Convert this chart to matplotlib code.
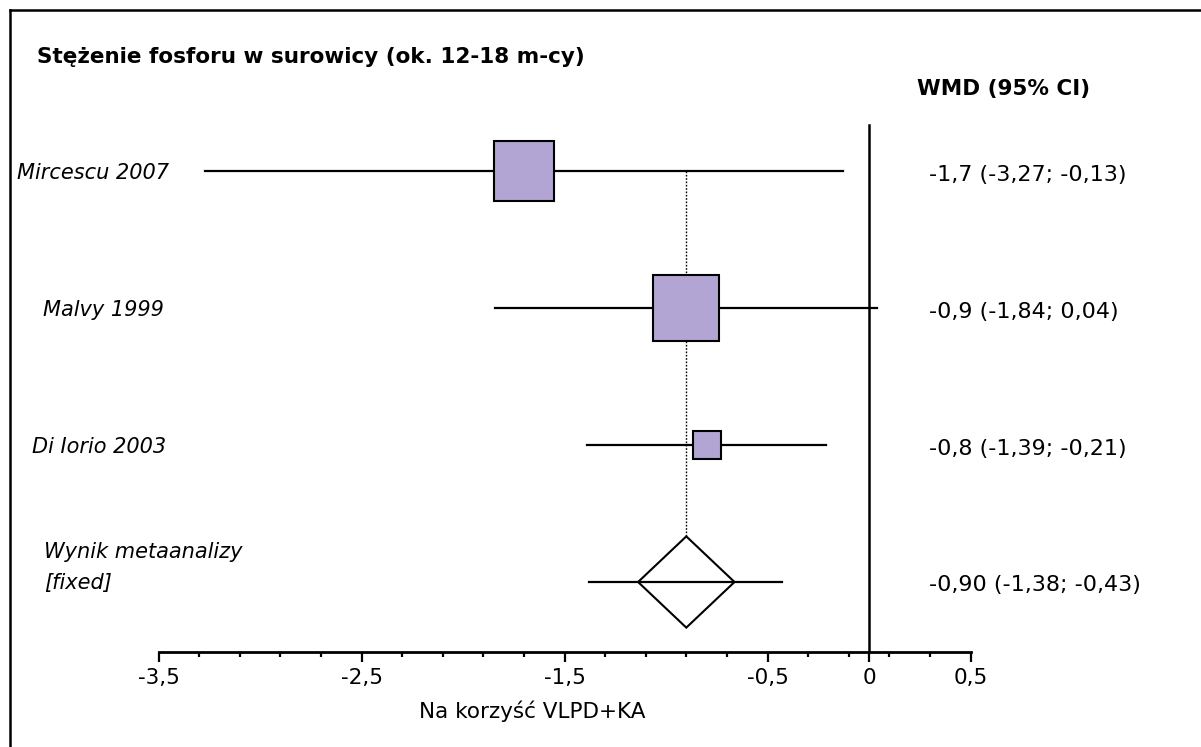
import numpy as np
import matplotlib
matplotlib.use("Agg")
import matplotlib.pyplot as plt
from matplotlib.lines import Line2D
from matplotlib.patches import Polygon

plt.rcParams['font.family'] = ['DejaVu Sans']

# data
studies = ["Mircescu 2007", "Malvy 1999", "Di Iorio 2003"]
est = [-1.7, -0.9, -0.8]
ci_lo = [-3.27, -1.84, -1.39]
ci_hi = [-0.13, 0.04, -0.21]
weight = [41, 50, 9]          # relative weight (square area)

pooled_label = ["Wynik metaanalizy", "[fixed]"]
pooled_est = -0.90
pooled_lo = -1.38
pooled_hi = -0.43

title = "Stężenie fosforu w surowicy (ok. 12-18 m-cy)"
col_title = "WMD (95% CI)"
xlabel = "Na korzyść VLPD+KA"
major_ticks = [-3.5, -2.5, -1.5, -0.5, 0, 0.5]


def fmt(v, nd):
    return ("{:.%df}" % nd).format(v).replace(".", ",")


W, H = 1201, 747
fig = plt.figure(figsize=(W / 100, H / 100), dpi=100)

# axes spans -3.5 .. 0.5 ; rows 0..3 spaced evenly
left_px, right_px = 158.5, 970.5
bot_px, top_px = 652, 120
ax = fig.add_axes([left_px / W, 1 - bot_px / H, (right_px - left_px) / W, (bot_px - top_px) / H])
row_px = 137.0
ax.set_xlim(-3.5, 0.5)
ax.set_ylim((bot_px - 171) / row_px, (top_px - 171) / row_px)

for s in ["top", "right", "left"]:
    ax.spines[s].set_visible(False)
ax.spines["bottom"].set_linewidth(2)
ax.set_yticks([])
ax.set_xticks(major_ticks)
ax.set_xticks(np.arange(-3.3, 0.5, 0.2), minor=True)
ax.set_xticklabels([fmt(t, 1) if t != 0 else "0" for t in major_ticks], fontsize=15.5)
ax.tick_params(axis="x", which="major", direction="out", length=7.5, width=1.6, pad=4)
ax.tick_params(axis="x", which="minor", direction="out", length=3.8, width=1.6)

# zero line
ax.axvline(0, ymin=0, ymax=(bot_px - 125) / (bot_px - top_px), color="black", lw=1.8)

rows = np.arange(len(studies))

# dotted line at the pooled estimate
n = len(studies)
dh = 0.333
ax.plot([pooled_est, pooled_est], [0, n - dh], color="black", lw=1.0, ls=(0, (1.2, 1.2)), zorder=1)

# study CIs and squares
for i in rows:
    ax.plot([ci_lo[i], ci_hi[i]], [i, i], color="black", lw=1.6, zorder=2)
    ax.plot(est[i], i, marker="s", markersize=6.75 * np.sqrt(weight[i]),
            markerfacecolor="#b2a5d3", markeredgecolor="black", markeredgewidth=1.5, zorder=3)

# pooled CI and diamond
ax.plot([pooled_lo, pooled_hi], [n, n], color="black", lw=1.6, zorder=2)
hw = (pooled_hi - pooled_lo) / 4
diamond = Polygon([[pooled_est - hw, n], [pooled_est, n - dh], [pooled_est + hw, n], [pooled_est, n + dh]],
                  closed=True, facecolor="none", edgecolor="black", lw=1.5, zorder=3)
ax.add_patch(diamond)

# left labels
label_x = [17, 43, 32]
for i, name in enumerate(studies):
    fig.text(label_x[i] / W, 1 - (171 + row_px * i + 2) / H, name, fontsize=15,
             style="italic", ha="left", va="center")
fig.text(44 / W, 1 - 552 / H, pooled_label[0], fontsize=15, style="italic", ha="left", va="center")
fig.text(44 / W, 1 - 583 / H, pooled_label[1], fontsize=15, style="italic", ha="left", va="center")

# right column values
for i in rows:
    txt = "%s (%s; %s)" % (fmt(est[i], 1), fmt(ci_lo[i], 2), fmt(ci_hi[i], 2))
    fig.text(929 / W, 1 - (171 + row_px * i + 4) / H, txt, fontsize=16, ha="left", va="center")
txt = "%s (%s; %s)" % (fmt(pooled_est, 2), fmt(pooled_lo, 2), fmt(pooled_hi, 2))
fig.text(929 / W, 1 - 585 / H, txt, fontsize=16, ha="left", va="center")

# titles
fig.text(37 / W, 1 - 57 / H, title, fontsize=15.5, fontweight="bold", ha="left", va="center")
fig.text(917 / W, 1 - 89 / H, col_title, fontsize=15.5, fontweight="bold", ha="left", va="center")
fig.text(532 / W, 1 - 711 / H, xlabel, fontsize=15.5, ha="center", va="center")

# outer frame (top and left edges only)
fig.add_artist(Line2D([10 / W, 10 / W], [0, 1 - 10 / H], color="black", lw=1.8, transform=fig.transFigure))
fig.add_artist(Line2D([10 / W, 1], [1 - 10 / H, 1 - 10 / H], color="black", lw=1.8, transform=fig.transFigure))

fig.savefig("out.png", dpi=100)
